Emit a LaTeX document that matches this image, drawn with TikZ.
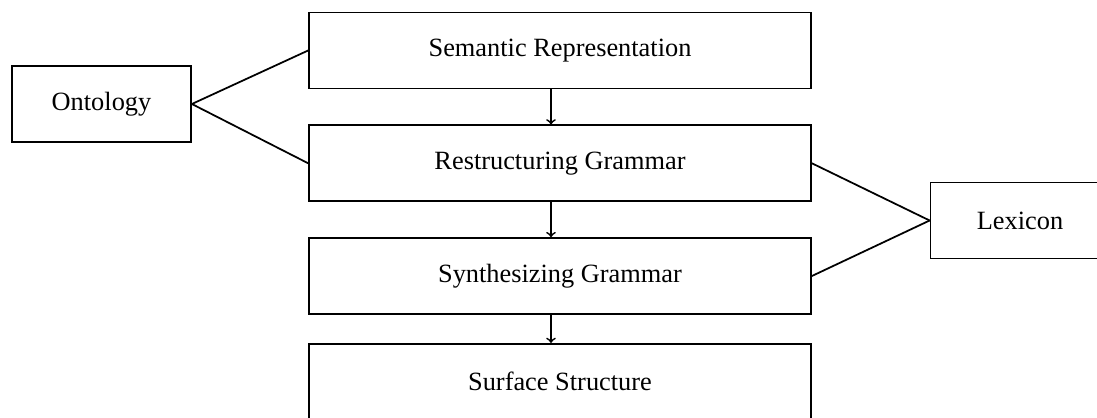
\documentclass[tikz,border=0pt]{standalone}
\usepackage{fontspec}
\setmainfont{Liberation Serif}
\usepackage{tikz}
\usetikzlibrary{
        arrows,
        positioning,
        shapes
    }
\tikzset{>=to,auto,node distance=0.7cm}
\tikzset{stage/.style={draw,line width=1pt,minimum width=10.04cm,minimum height=1.52cm,
        font=\fontsize{15}{18}\selectfont}}
\tikzset{resource/.style={stage,minimum width=3.58cm}}

\begin{document}
\begin{tikzpicture}[line width=1pt]
    \useasboundingbox (0,0) rectangle (21.94,-8.34);
        \node[stage] (sem) at (11.2,-1.01) {Semantic Representation};
        \node[stage] (rst) [below=of sem] {Restructuring Grammar};
        \node[stage] (syn) [below=of rst] {Synthesizing Grammar};
        \node[stage] (sur) [below=0.56cm of syn] {Surface Structure};
        \node[resource] (ont) at (2.03,-2.08) {Ontology};
        \node[resource] (lex) at (20.4,-4.41) {Lexicon};
    \path[->]
            ([xshift=-0.18cm]sem.south) edge ([xshift=-0.18cm]rst.north)
            ([xshift=-0.18cm]rst.south) edge ([xshift=-0.18cm]syn.north)
            ([xshift=-0.18cm]syn.south) edge ([xshift=-0.18cm]sur.north)
            ;
    \path[-]
            (ont.east) edge (sem.west)
            (ont.east) edge (rst.west)
            (rst.east) edge (lex.west)
            (syn.east) edge (lex.west)
            ;
\end{tikzpicture}
\end{document}
